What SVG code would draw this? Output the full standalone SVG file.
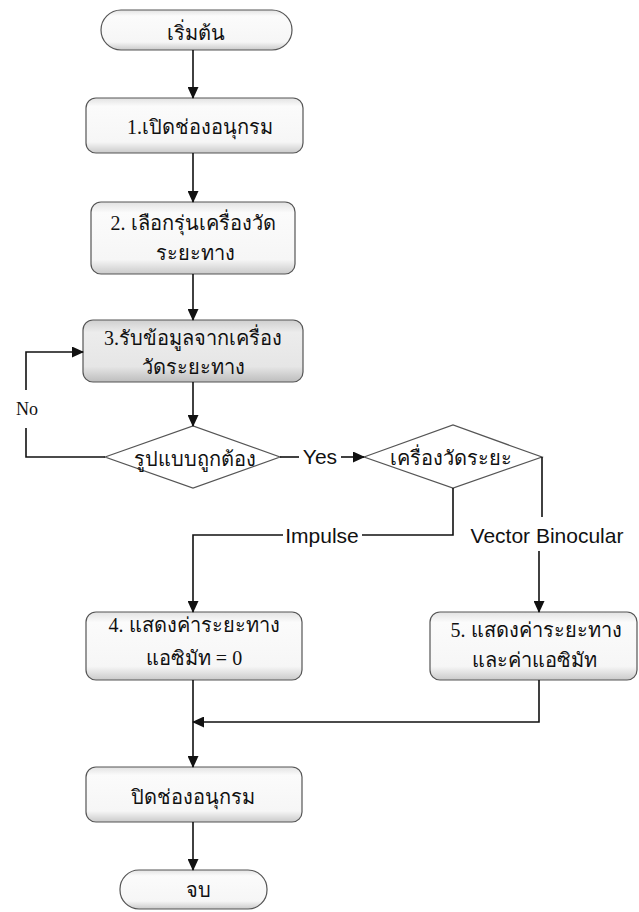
<svg xmlns="http://www.w3.org/2000/svg" width="639" height="912" viewBox="0 0 639 912">
<style>
.box{fill:url(#g1);stroke:#555;stroke-width:1.2}
.box3{fill:url(#g3);stroke:#555;stroke-width:1.2}
.dia{fill:#fff;stroke:#555;stroke-width:1.2}
.th{font-family:"Liberation Serif","Noto Sans",serif;font-size:20px;fill:#111;text-anchor:middle}
.en{font-family:"Liberation Sans",Arial,sans-serif;font-size:21px;fill:#111;text-anchor:middle}
.sr{font-family:"Liberation Serif",serif;font-size:18px;fill:#111;text-anchor:middle}
.ln{fill:none;stroke:#111;stroke-width:1.6}
</style>
<defs>
<linearGradient id="g1" x1="0" y1="0" x2="0" y2="1">
<stop offset="0" stop-color="#e2e2e2"/><stop offset="0.15" stop-color="#fbfbfb"/><stop offset="0.8" stop-color="#f6f6f6"/><stop offset="1" stop-color="#cacaca"/>
</linearGradient>
<linearGradient id="g3" x1="0" y1="0" x2="0" y2="1">
<stop offset="0" stop-color="#cfcfcf"/><stop offset="0.2" stop-color="#ececec"/><stop offset="0.75" stop-color="#e6e6e6"/><stop offset="1" stop-color="#bdbdbd"/>
</linearGradient>
<marker id="ar" markerWidth="12" markerHeight="11" refX="11" refY="5.5" orient="auto" markerUnits="userSpaceOnUse">
<path d="M0,0 L12,5.5 L0,11 Z" fill="#111"/>
</marker>
</defs>
<g id="start"><rect x="101" y="10" width="191" height="40" rx="20" class="box"/><text x="196" y="40" class="th">เริ่มต้น</text></g>
<g id="n1"><rect x="86" y="98" width="217" height="55" rx="10" class="box"/><text x="200" y="134" class="th">1.เปิดช่องอนุกรม</text></g>
<g id="n2"><rect x="91" y="202" width="204" height="72" rx="10" class="box"/><text x="193" y="230" class="th">2. เลือกรุ่นเครื่องวัด</text><text x="195" y="260" class="th">ระยะทาง</text></g>
<g id="n3"><rect x="83" y="320" width="220" height="62" rx="10" class="box3"/><text x="193" y="345" class="th">3.รับข้อมูลจากเครื่อง</text><text x="193" y="374" class="th">วัดระยะทาง</text></g>
<g id="d1"><polygon points="105,457 193,426 280,457 193,488" class="dia"/><text x="195" y="466" class="th">รูปแบบถูกต้อง</text></g>
<g id="d2"><polygon points="364,457 453,425 542,457 453,488" class="dia"/><text x="451" y="465" class="th">เครื่องวัดระยะ</text></g>
<g id="n4"><rect x="86" y="612" width="216" height="68" rx="10" class="box"/><text x="194" y="632" class="th">4. แสดงค่าระยะทาง</text><text x="194" y="665" class="th">แอซิมัท = 0</text></g>
<g id="n5"><rect x="430" y="612" width="207" height="68" rx="10" class="box"/><text x="536" y="637" class="th">5. แสดงค่าระยะทาง</text><text x="534" y="667" class="th">และค่าแอซิมัท</text></g>
<g id="n6"><rect x="86" y="767" width="216" height="55" rx="10" class="box"/><text x="193" y="804" class="th">ปิดช่องอนุกรม</text></g>
<g id="end"><rect x="120" y="870" width="147" height="39" rx="19" class="box"/><text x="198" y="897" class="th">จบ</text></g>
<g id="connectors">
<path d="M193,50 V98" class="ln" marker-end="url(#ar)"/>
<path d="M193,153 V202" class="ln" marker-end="url(#ar)"/>
<path d="M193,274 V320" class="ln" marker-end="url(#ar)"/>
<path d="M193,382 V426" class="ln" marker-end="url(#ar)"/>
<path d="M105,457 H26 V428" class="ln"/>
<path d="M26,390 V352 H83" class="ln" marker-end="url(#ar)"/>
<text x="27" y="415" class="sr">No</text>
<path d="M280,457 H299" class="ln"/>
<text x="320" y="464" class="en">Yes</text>
<path d="M341,457 H364" class="ln" marker-end="url(#ar)"/>
<path d="M453,488 V535 H362" class="ln"/>
<text x="322" y="543" class="en">Impulse</text>
<path d="M283,535 H193 V612" class="ln" marker-end="url(#ar)"/>
<path d="M542,457 V517" class="ln"/>
<text x="547" y="543" class="en">Vector Binocular</text>
<path d="M539,551 V612" class="ln" marker-end="url(#ar)"/>
<path d="M539,680 V722 H193" class="ln" marker-end="url(#ar)"/>
<path d="M193,680 V767" class="ln" marker-end="url(#ar)"/>
<path d="M193,822 V870" class="ln" marker-end="url(#ar)"/>
</g>
</svg>
